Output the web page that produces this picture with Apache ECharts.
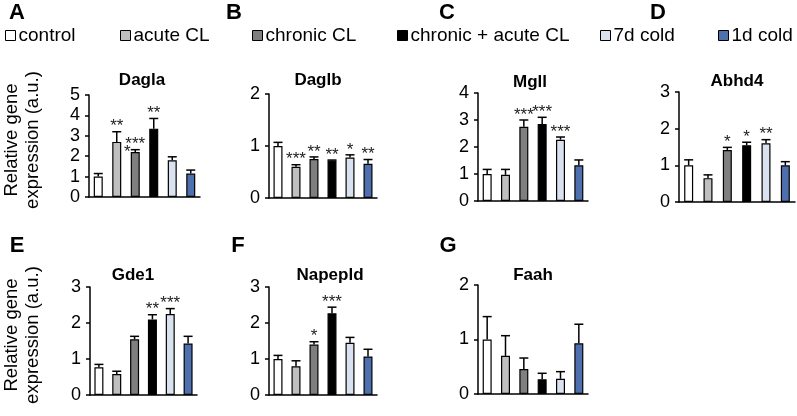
<!DOCTYPE html>
<html>
<head>
<meta charset="utf-8">
<script src="https://cdn.jsdelivr.net/npm/echarts@6/dist/echarts.min.js"></script>
<style>html,body{margin:0;padding:0;background:#fff}#c{width:797px;height:416px}</style>
</head>
<body>
<div id="c"></div>
<script>
// ---- data ----
var groups = ['control', 'acute CL', 'chronic CL', 'chronic + acute CL', '7d cold', '1d cold'];
var genes = ['Dagla', 'Daglb', 'Mgll', 'Abhd4', 'Gde1', 'Napepld', 'Faah'];
var panelLetters = ['A', 'B', 'C', 'D', 'E', 'F', 'G'];

var daglaMean = [1.0, 2.7, 2.2, 3.35, 1.8, 1.15];
var daglaErr  = [0.15, 0.5, 0.12, 0.5, 0.17, 0.17];
var daglaStars = ['', '**', '***', '**', '', ''];

var daglbMean = [1.0, 0.6, 0.75, 0.72, 0.78, 0.66];
var daglbErr  = [0.07, 0.04, 0.04, 0.01, 0.05, 0.08];
var daglbStars = ['', '***', '**', '**', '*', '**'];

var mgllMean = [1.0, 0.97, 2.75, 2.85, 2.27, 1.32];
var mgllErr  = [0.17, 0.2, 0.25, 0.25, 0.1, 0.2];
var mgllStars = ['', '', '***', '***', '***', ''];

var abhd4Mean = [1.0, 0.65, 1.42, 1.55, 1.6, 1.0];
var abhd4Err  = [0.15, 0.09, 0.07, 0.08, 0.1, 0.1];
var abhd4Stars = ['', '', '*', '*', '**', ''];

var gde1Mean = [0.77, 0.58, 1.55, 2.1, 2.25, 1.43];
var gde1Err  = [0.08, 0.08, 0.08, 0.13, 0.15, 0.2];
var gde1Stars = ['', '', '', '**', '***', ''];

var napepldMean = [1.0, 0.8, 1.4, 2.27, 1.45, 1.07];
var napepldErr  = [0.1, 0.15, 0.08, 0.17, 0.15, 0.2];
var napepldStars = ['', '', '*', '***', '', ''];

var faahMean = [1.0, 0.7, 0.46, 0.27, 0.28, 0.93];
var faahErr  = [0.42, 0.37, 0.2, 0.11, 0.13, 0.35];
var faahStars = ['', '', '', '', '', ''];

var yMax = [5, 2, 4, 3, 3, 3, 2];
var yTicks = [1, 1, 1, 1, 1, 1, 1];

var means = [daglaMean, daglbMean, mgllMean, abhd4Mean, gde1Mean, napepldMean, faahMean];
var errs = [daglaErr, daglbErr, mgllErr, abhd4Err, gde1Err, napepldErr, faahErr];
var stars = [daglaStars, daglbStars, mgllStars, abhd4Stars, gde1Stars, napepldStars, faahStars];

// ---- styles / layout ----
var colors = ['#ffffff', '#bfbfbf', '#7f7f7f', '#000000', '#dbe2ef', '#4e70ae'];
var grids = [
  {left: 89, top: 95, width: 111, height: 102},
  {left: 269, top: 94, width: 108, height: 104},
  {left: 478, top: 93, width: 110, height: 108},
  {left: 679, top: 92, width: 116, height: 110},
  {left: 90, top: 287, width: 107, height: 108},
  {left: 269, top: 287, width: 108, height: 108},
  {left: 478, top: 285, width: 110, height: 109}
];
var titlePos = [[142, 80], [318, 80], [530, 82], [737, 81], [133, 275], [330, 275], [533, 275]];
var letterPos = [[17, 13], [234, 13], [447, 13], [658, 13], [17, 246], [238, 246], [448, 246]];
var legendLeft = [5, 120, 252, 397, 600, 718];
var FONT = '"Liberation Sans", Arial, sans-serif';

var xAxes = [], yAxes = [], series = [], graphics = [];
grids.forEach(function (g, p) {
  xAxes.push({
    type: 'category', gridIndex: p, data: groups,
    axisLine: {lineStyle: {color: '#000', width: 1.5}},
    axisTick: {show: false}, axisLabel: {show: false}
  });
  yAxes.push({
    type: 'value', gridIndex: p, min: 0, max: yMax[p], interval: yTicks[p],
    axisLine: {show: true, lineStyle: {color: '#000', width: 1.5}},
    axisTick: {show: true, length: 4, lineStyle: {color: '#000', width: 1.5}},
    splitLine: {show: false},
    axisLabel: {color: '#000', fontSize: 18, fontFamily: FONT, margin: 9}
  });
  groups.forEach(function (name, gi) {
    series.push({
      type: 'bar', name: name, xAxisIndex: p, yAxisIndex: p, stack: 'p' + p,
      barWidth: 9,
      itemStyle: {color: colors[gi], borderColor: '#000', borderWidth: 1.2},
      data: groups.map(function (c, i) { return i === gi ? means[p][i] : '-'; }),
      z: 2
    });
  });
  series.push({
    type: 'custom', xAxisIndex: p, yAxisIndex: p, clip: false, z: 3,
    data: groups.map(function (c, i) { return [i, means[p][i], errs[p][i]]; }),
    renderItem: (function (pp) {
      return function (params, api) {
        var i = api.value(0);
        var base = api.coord([i, api.value(1)]);
        var top = api.coord([i, api.value(1) + api.value(2)]);
        var children = [
          {type: 'line', shape: {x1: base[0], y1: base[1], x2: top[0], y2: top[1]}, style: {stroke: '#000', lineWidth: 1.5}},
          {type: 'line', shape: {x1: top[0] - 4.5, y1: top[1], x2: top[0] + 4.5, y2: top[1]}, style: {stroke: '#000', lineWidth: 1.5}}
        ];
        var s = stars[pp][params.dataIndex];
        if (s) {
          children.push({type: 'text', style: {text: s, x: top[0], y: top[1] - 5, align: 'center', verticalAlign: 'middle', font: '17px ' + FONT, fill: '#222'}});
        }
        if (pp === 0 && params.dataIndex === 2) {
          children.push({type: 'text', style: {text: '*', x: top[0] - 8, y: top[1] + 3, align: 'center', verticalAlign: 'middle', font: '17px ' + FONT, fill: '#222'}});
        }
        return {type: 'group', children: children};
      };
    })(p)
  });
  graphics.push({type: 'text', x: titlePos[p][0], y: titlePos[p][1], style: {text: genes[p], font: 'bold 17px ' + FONT, fill: '#000', align: 'center', verticalAlign: 'middle'}});
  graphics.push({type: 'text', x: letterPos[p][0], y: letterPos[p][1], style: {text: panelLetters[p], font: 'bold 22px ' + FONT, fill: '#000', align: 'center', verticalAlign: 'middle'}});
});
graphics.push({type: 'text', x: 22, y: 140, rotation: Math.PI / 2, style: {text: 'Relative gene\nexpression (a.u.)', font: '18.5px ' + FONT, fill: '#000', align: 'center', verticalAlign: 'middle', lineHeight: 21}});
graphics.push({type: 'text', x: 22, y: 335, rotation: Math.PI / 2, style: {text: 'Relative gene\nexpression (a.u.)', font: '18.5px ' + FONT, fill: '#000', align: 'center', verticalAlign: 'middle', lineHeight: 21}});

var legends = groups.map(function (name, gi) {
  return {
    data: [name], left: legendLeft[gi], top: 26, padding: 0,
    icon: 'rect', itemWidth: 10, itemHeight: 10, selectedMode: false,
    itemStyle: {borderColor: '#000', borderWidth: 1},
    textStyle: {fontSize: 19, fontFamily: FONT, color: '#000', padding: [0, 0, 0, -2]}
  };
});

var chart = echarts.init(document.getElementById('c'), null, {renderer: 'canvas'});
chart.setOption({
  animation: false,
  backgroundColor: '#fff',
  legend: legends,
  grid: grids,
  xAxis: xAxes,
  yAxis: yAxes,
  series: series,
  graphic: graphics
});
</script>
</body>
</html>
